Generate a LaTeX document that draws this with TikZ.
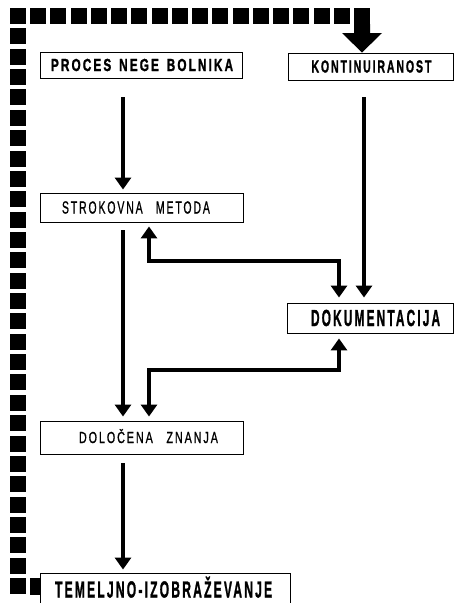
\documentclass[tikz,border=0pt]{standalone}
\usepackage{fontspec}
\usepackage{graphicx}
\usetikzlibrary{arrows.meta}
\newfontfamily\labfont[LetterSpace=18, BoldFeatures={FakeBold=1.6}, UprightFeatures={FakeBold=1.3}]{Liberation Sans}
\newcommand{\ws}{\ \hspace{3pt}}
\newcommand{\lblb}[3]{\resizebox{#1pt}{#2pt}{\fontsize{14}{14}\selectfont\labfont\bfseries\raisebox{0pt}[\fontcharht\font`\E][0pt]{#3\kern-2.5pt}}}
\newcommand{\lblr}[3]{\resizebox{#1pt}{#2pt}{\fontsize{14}{14}\selectfont\labfont\raisebox{0pt}[\fontcharht\font`\E][0pt]{#3\kern-2.5pt}}}
\begin{document}
\begin{tikzpicture}[x=1pt,y=-1pt,
  box/.style={draw, line width=0.9pt, inner sep=0pt, rectangle},
  conn/.style={line width=3.2pt, -{Triangle[width=16pt,length=12pt]}},
  conn2/.style={line width=3.2pt, {Triangle[width=16pt,length=12pt]}-{Triangle[width=16pt,length=12pt]}}]
\useasboundingbox (0,0) rectangle (454,603);
% boxes
\node[box, minimum width=202pt, minimum height=26pt] (proc) at (141,65) {\lblb{180}{12}{PROCES\ws NEGE\ws BOLNIKA}};
\node[box, minimum width=165pt, minimum height=27pt] (kont) at (370.5,66.5) {\lblb{118}{12}{KONTINUIRANOST}};
\node[box, minimum width=203pt, minimum height=29pt] (strok) at (141.5,207.5) {\lblr{146}{12}{STROKOVNA\ws\hspace{2pt} METODA}\hspace*{13pt}};
\node[box, minimum width=166pt, minimum height=30pt] (dok) at (370,318) {\hspace*{9pt}\lblb{127}{16}{DOKUMENTACIJA}};
\node[box, minimum width=203pt, minimum height=33pt] (dol) at (141.5,437.5) {\hspace*{12pt}\lblr{137}{11}{DOLOČENA\ws\hspace{2pt} ZNANJA}};
\node[box, minimum width=250pt, minimum height=33pt] (tem) at (165,589.5) {\lblb{215}{16}{TEMELJNO-IZOBRAŽEVANJE}\hspace*{5pt}};
% helper coordinates
\coordinate (cA) at (123,0);
\coordinate (cB) at (149,0);
\coordinate (cC) at (339,0);
\coordinate (cD) at (364,0);
\coordinate (acol) at (362,0);
\coordinate (h1) at (0,261);
\coordinate (h2) at (0,370);
% connectors
\draw[conn, shorten <=19pt, shorten >=3pt] (proc.south -| cA) -- (strok.north -| cA);
\draw[conn, shorten <=17pt, shorten >=5pt] (kont.south -| cD) -- (dok.north -| cD);
\draw[conn, shorten <=8pt, shorten >=4pt] (strok.south -| cA) -- (dol.north -| cA);
\draw[conn, shorten <=9pt, shorten >=3pt] (dol.south -| cA) -- (tem.north -| cA);
\draw[conn2, shorten <=4pt, shorten >=5pt] (strok.south -| cB) -- (cB |- h1) -- (cC |- h1) -- (dok.north -| cC);
\draw[conn2, shorten <=5pt, shorten >=4pt] (dok.south -| cC) -- (cC |- h2) -- (cB |- h2) -- (dol.north -| cB);
% dashed feedback border of squares
\foreach \j in {0,...,17} \fill (10+20.24*\j, 8) rectangle ++(16,16);
\foreach \k in {1,...,28} \fill (10, 8+20.36*\k) rectangle ++(16,16);
\fill (30,578) rectangle (39.5,595);
\fill (354,24) -- (370,24) -- (370,33) -- (382,33) -- (kont.north -| acol) -- (342,33) -- (354,33) -- cycle;
\end{tikzpicture}
\end{document}
